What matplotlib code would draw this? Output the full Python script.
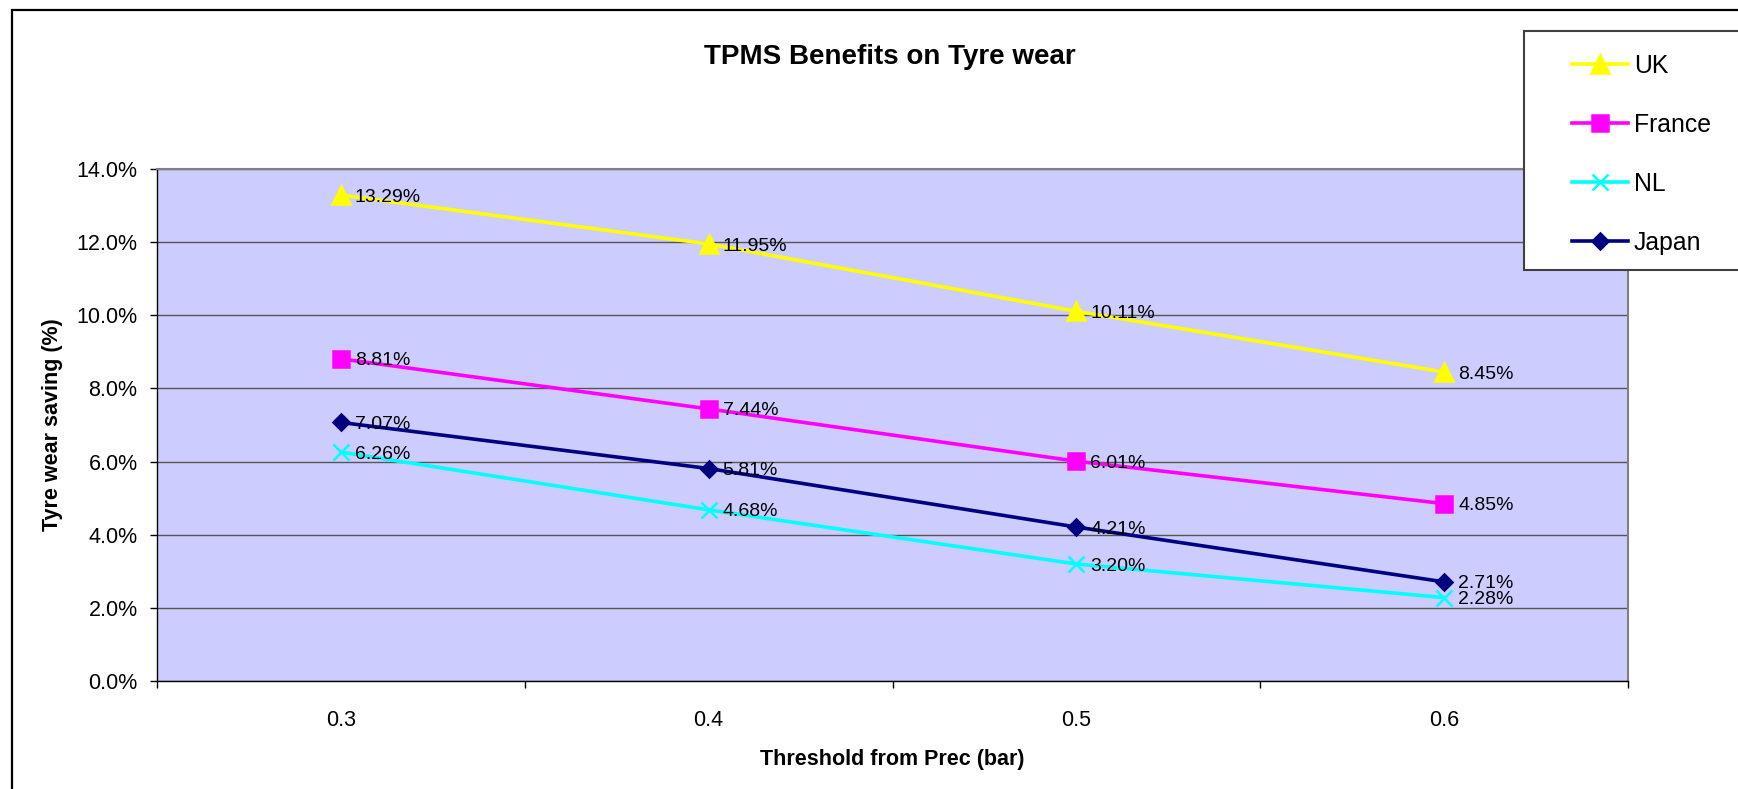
import matplotlib
matplotlib.use("Agg")
import matplotlib.pyplot as plt
from matplotlib.ticker import PercentFormatter, FixedLocator
from matplotlib.patches import Rectangle

plt.rcParams['font.family'] = ['Liberation Sans', 'DejaVu Sans']

categories = ["0.3", "0.4", "0.5", "0.6"]
uk = [0.1329, 0.1195, 0.1011, 0.0845]
france = [0.0881, 0.0744, 0.0601, 0.0485]
nl = [0.0626, 0.0468, 0.0320, 0.0228]
japan = [0.0707, 0.0581, 0.0421, 0.0271]

series_names = ["UK", "France", "NL", "Japan"]
series_values = [uk, france, nl, japan]
colors = ["#FFFF00", "#FF00FF", "#00FFFF", "#000080"]
markers = ["^", "s", "x", "D"]
msizes = [13, 11, 12, 8]

W, H = 1738, 789
fig = plt.figure(figsize=(W / 100, H / 100), dpi=100)
fig.patch.set_facecolor("white")

left, right = 157 / W, 1628 / W
bottom, top = 1 - 681 / H, 1 - 169 / H
ax = fig.add_axes([left, bottom, right - left, top - bottom])
ax.set_facecolor("#CCCCFF")

x = list(range(len(categories)))
handles = []
for name, vals, c, m, ms in zip(series_names, series_values, colors, markers, msizes):
    h, = ax.plot(x, vals, color=c, marker=m, markersize=ms, linewidth=2.6,
                 markeredgecolor=c, markerfacecolor=c, markeredgewidth=1.8,
                 label=name, zorder=3)
    handles.append(h)
    for xi, v in zip(x, vals):
        ax.annotate(f"{v * 100:.2f}%", (xi, v), xytext=(10, -1.5),
                    textcoords="offset points", ha="left", va="center",
                    fontsize=14, color="black", zorder=4)

ax.set_xlim(-0.5, len(categories) - 0.5)
ax.set_ylim(0, 0.14)
ax.set_yticks([i * 0.02 for i in range(8)])
ax.yaxis.set_major_formatter(PercentFormatter(xmax=1, decimals=1))
ax.set_xticks(x)
ax.set_xticklabels(categories)
ax.xaxis.set_minor_locator(FixedLocator([i - 0.5 for i in range(len(categories) + 1)]))

ax.tick_params(axis="y", which="major", direction="out", length=5, width=1,
               color="black", labelsize=15.5, pad=9)
ax.tick_params(axis="x", which="major", length=0, labelsize=15.5, pad=21)
ax.tick_params(axis="x", which="minor", direction="out", length=5, width=1, color="black")

ax.grid(axis="y", color="#555555", linewidth=1.0, zorder=1)
ax.set_axisbelow(True)

for s in ["left", "bottom"]:
    ax.spines[s].set_color("black")
    ax.spines[s].set_linewidth(1.0)
for s in ["top", "right"]:
    ax.spines[s].set_color("#808080")
    ax.spines[s].set_linewidth(1.5)

ax.set_xlabel("Threshold from Prec (bar)", fontsize=15.5, fontweight="bold")
ax.set_ylabel("Tyre wear saving (%)", fontsize=15.5, fontweight="bold")
ax.xaxis.set_label_coords(0.5, (681 - 759) / 512)
ax.xaxis.label.set_va("center")
ax.yaxis.set_label_coords((53 - 157) / 1471, 0.5)
ax.yaxis.label.set_va("center")

fig.text(890 / W, 1 - 56.5 / H, "TPMS Benefits on Tyre wear", ha="center", va="center",
         fontsize=20, fontweight="bold")

# outer chart border
fig.patches.append(Rectangle((12 / W, -0.1), 1.2, 1 - 10 / H + 0.1, transform=fig.transFigure,
                             fill=False, edgecolor="black", linewidth=1.6, zorder=0))
# legend frame
fig.patches.append(Rectangle((1524 / W, 1 - 270 / H), 0.3, (270 - 31) / H,
                             transform=fig.transFigure, facecolor="white",
                             edgecolor="#404040", linewidth=1.5, zorder=5))

leg = fig.legend(handles=handles, loc="upper left",
                 bbox_to_anchor=(1572 / W, 1 - 54 / H), frameon=False,
                 fontsize=17.8, handlelength=2.25, handletextpad=0.25,
                 labelspacing=1.41, borderpad=0, borderaxespad=0, numpoints=1)
leg.set_zorder(6)

fig.savefig("out.png", dpi=100)
